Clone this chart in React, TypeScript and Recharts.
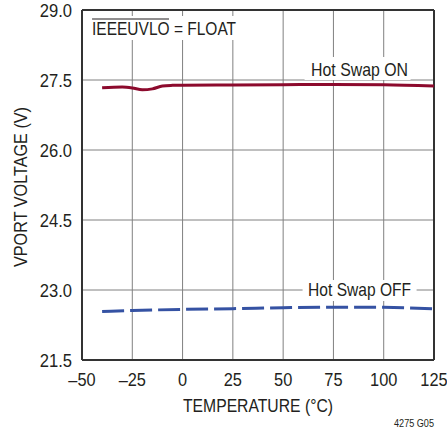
import React from "react";
import {
  LineChart,
  Line,
  XAxis,
  YAxis,
  CartesianGrid,
  ReferenceLine,
  ReferenceDot,
  Label,
} from "recharts";

// ---- data ----
const onTemps = [-40, -30, -25, -20, -15, -10, -5, 0, 25, 50, 75, 100, 125];
const onVolts = [27.335, 27.35, 27.33, 27.29, 27.31, 27.37, 27.385, 27.39, 27.395, 27.4, 27.405, 27.4, 27.37];
const offTemps = [-40, -25, 0, 25, 50, 75, 100, 110, 125];
const offVolts = [22.54, 22.56, 22.585, 22.6, 22.62, 22.632, 22.628, 22.62, 22.595];
const xTicks = [-50, -25, 0, 25, 50, 75, 100, 125];
const yTicks = [21.5, 23.0, 24.5, 26.0, 27.5, 29.0];
const xTitle = "TEMPERATURE (°C)";
const yTitle = "VPORT VOLTAGE (V)";
const figId = "4275 G05";
const onLabel = "Hot Swap ON";
const offLabel = "Hot Swap OFF";
const condLabel = "IEEEUVLO = FLOAT";

const onData = onTemps.map((t, i) => ({ t, v: onVolts[i] }));
const offData = offTemps.map((t, i) => ({ t, v: offVolts[i] }));

const FONT = '"Liberation Sans", Arial, sans-serif';
const TXT = "#231f20";
const FRAME = "#333333";
const GRID = "#808080";

const fmtX = (v: number) => (v < 0 ? "\u2013" + Math.abs(v) : String(v));
const tickLen = (s: string) =>
  s.split("").reduce((a, c) => a + (c === "." ? 5 : 9.1), 0);

const XTick = (p: any) => {
  const s = fmtX(p.payload.value);
  return (
    <text
      x={p.x}
      y={p.y + 26}
      textAnchor="middle"
      fontFamily={FONT}
      fontSize={18.5}
      fill={TXT}
      textLength={tickLen(s)}
      lengthAdjust="spacingAndGlyphs"
    >
      {s}
    </text>
  );
};
const YTick = (p: any) => {
  const s = Number(p.payload.value).toFixed(1);
  return (
    <text
      x={p.x}
      y={p.y}
      dy="0.36em"
      textAnchor="end"
      fontFamily={FONT}
      fontSize={18.5}
      fill={TXT}
      textLength={tickLen(s)}
      lengthAdjust="spacingAndGlyphs"
    >
      {s}
    </text>
  );
};

const boxLabel = (text: string, tl: number, left: number, width: number, top: number, height: number) => (p: any) => (
  <g>
    <rect x={p.cx + left} y={p.cy + top} width={width} height={height} fill="#ffffff" />
    <text
      x={p.cx}
      y={p.cy}
      dy="0.36em"
      textAnchor="middle"
      fontFamily={FONT}
      fontSize={19}
      fill={TXT}
      textLength={tl}
      lengthAdjust="spacingAndGlyphs"
    >
      {text}
    </text>
  </g>
);

const condShape = (p: any) => (
  <g>
    <rect x={p.cx - 6} y={p.cy - 12} width={156} height={24} fill="#ffffff" />
    <line x1={p.cx} x2={p.cx + 77} y1={p.cy - 9} y2={p.cy - 9} stroke={TXT} strokeWidth={1.2} />
    <text
      x={p.cx}
      y={p.cy}
      dy="0.36em"
      textAnchor="start"
      fontFamily={FONT}
      fontSize={19}
      fill={TXT}
      textLength={144}
      lengthAdjust="spacingAndGlyphs"
    >
      {condLabel}
    </text>
  </g>
);

export default function App() {
  return (
    <div style={{ position: "absolute", left: 0, top: 0, width: 447, height: 431, background: "#fff" }}>
      <LineChart width={447} height={431} margin={{ top: 10, right: 13, left: 0, bottom: 0 }}>
        <CartesianGrid stroke={GRID} strokeWidth={1} />
        <XAxis
          dataKey="t"
          type="number"
          domain={[-50, 125]}
          ticks={xTicks}
          allowDuplicatedCategory={false}
          height={71}
          tickSize={0}
          tickMargin={0}
          tick={<XTick />}
          axisLine={{ stroke: FRAME, strokeWidth: 2 }}
          tickLine={false}
        >
          <Label
            content={(p: any) => (
              <g>
                <text
                  x={p.viewBox.x + p.viewBox.width / 2}
                  y={p.viewBox.y + 52}
                  textAnchor="middle"
                  fontFamily={FONT}
                  fontSize={19}
                  fill={TXT}
                  textLength={150}
                  lengthAdjust="spacingAndGlyphs"
                >
                  {xTitle}
                </text>
                <text
                  x={p.viewBox.x + p.viewBox.width}
                  y={p.viewBox.y + 67}
                  textAnchor="end"
                  fontFamily={FONT}
                  fontSize={11}
                  fill={TXT}
                  textLength={40}
                  lengthAdjust="spacingAndGlyphs"
                >
                  {figId}
                </text>
              </g>
            )}
          />
        </XAxis>
        <YAxis
          dataKey="v"
          type="number"
          domain={[21.5, 29]}
          ticks={yTicks}
          width={82}
          tickSize={0}
          tickMargin={10}
          tick={<YTick />}
          axisLine={{ stroke: FRAME, strokeWidth: 2 }}
          tickLine={false}
        >
          <Label
            content={() => {
              const cx = 20;
              const cy = 187;
              return (
                <text
                  x={cx}
                  y={cy}
                  dy="0.36em"
                  transform={`rotate(-90 ${cx} ${cy})`}
                  textAnchor="middle"
                  fontFamily={FONT}
                  fontSize={19}
                  fill={TXT}
                  textLength={160}
                  lengthAdjust="spacingAndGlyphs"
                >
                  {yTitle}
                </text>
              );
            }}
          />
        </YAxis>
        <ReferenceLine y={29} stroke={FRAME} strokeWidth={2} />
        <ReferenceLine x={125} stroke={FRAME} strokeWidth={2} />
        <Line
          data={onData}
          dataKey="v"
          type="monotone"
          stroke="#8c0a2d"
          strokeWidth={3}
          dot={false}
          isAnimationActive={false}
        />
        <Line
          data={offData}
          dataKey="v"
          type="monotone"
          stroke="#3552a3"
          strokeWidth={3}
          strokeDasharray="22 6"
          dot={false}
          isAnimationActive={false}
        />
        <ReferenceDot x={88} y={27.736} r={0} ifOverflow="visible" shape={boxLabel(onLabel, 97, -55, 106, -12, 23)} />
        <ReferenceDot x={88} y={23.021} r={0} ifOverflow="visible" shape={boxLabel(offLabel, 103, -57, 114, -9, 21)} />
        <ReferenceDot x={-45} y={28.614} r={0} ifOverflow="visible" shape={condShape} />
      </LineChart>
    </div>
  );
}
